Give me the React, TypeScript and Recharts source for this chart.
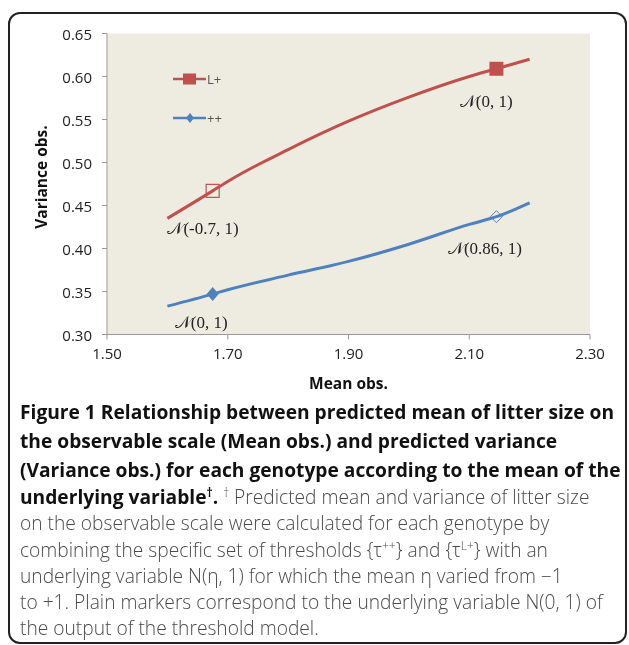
import {
  ComposedChart,
  Line,
  XAxis,
  YAxis,
  CartesianGrid,
  Legend,
  ReferenceDot
} from "recharts";

// values
const meanObs = [1.6, 1.675, 1.7, 1.8, 1.9, 2.0, 2.1, 2.145, 2.2];
const varLPlus = [0.435, 0.467, 0.478, 0.515, 0.548, 0.576, 0.6, 0.609, 0.62];
const varPlusPlus = [0.333, 0.347, 0.352, 0.369, 0.385, 0.405, 0.428, 0.437, 0.453];
const markersLPlus = ["", "hollow", "", "", "", "", "", "filled", ""];
const markersPlusPlus = ["", "filled", "", "", "", "", "", "hollow", ""];
const seriesNames = ["L+", "++"];
const xTicks = [1.5, 1.7, 1.9, 2.1, 2.3];
const yTicks = [0.3, 0.35, 0.4, 0.45, 0.5, 0.55, 0.6, 0.65];

const noteText = ["𝒩(0, 1)", "𝒩(-0.7, 1)", "𝒩(0.86, 1)", "𝒩(0, 1)"];
const noteX = [2.128, 1.659, 2.126, 1.656];
const noteY = [0.572, 0.4244, 0.401, 0.315];

const RED = "#C0504D";
const BLUE = "#4F81BD";
const FONT = "'Open Sans', sans-serif";

const dataLPlus = meanObs.map((m, i) => ({ mean: m, variance: varLPlus[i], marker: markersLPlus[i] }));
const dataPlusPlus = meanObs.map((m, i) => ({ mean: m, variance: varPlusPlus[i], marker: markersPlusPlus[i] }));

function squareDot(props: any) {
  const { cx, cy, payload, index } = props;
  if (payload.marker === "filled")
    return <rect key={index} x={cx - 7} y={cy - 7} width={14} height={14} fill={RED} />;
  if (payload.marker === "hollow")
    return <rect key={index} x={cx - 6.5} y={cy - 6.5} width={13} height={13} fill="none" stroke={RED} strokeWidth={1.2} />;
  return <g key={index} />;
}

function diamondDot(props: any) {
  const { cx, cy, payload, index } = props;
  if (payload.marker === "filled")
    return <polygon key={index} points={`${cx},${cy - 7} ${cx + 6},${cy} ${cx},${cy + 7} ${cx - 6},${cy}`} fill={BLUE} />;
  if (payload.marker === "hollow")
    return <polygon key={index} points={`${cx},${cy - 6} ${cx + 6},${cy} ${cx},${cy + 6} ${cx - 6},${cy}`} fill="none" stroke={BLUE} strokeWidth={1} />;
  return <g key={index} />;
}

function LegendBox() {
  return (
    <div style={{ fontFamily: FONT, fontSize: 13, color: "#555" }}>
      {seriesNames.map((name, i) => (
        <div key={name} style={{ display: "flex", alignItems: "center", height: 39 }}>
          <svg width={33} height={12}>
            <line x1={0} y1={6} x2={33} y2={6} stroke={i === 0 ? RED : BLUE} strokeWidth={2.5} />
            {i === 0 ? (
              <rect x={10} y={0.5} width={13} height={11} fill={RED} />
            ) : (
              <polygon points="17,1 21,6 17,11 13,6" fill={BLUE} />
            )}
          </svg>
          <span style={{ marginLeft: 1 }}>{name}</span>
        </div>
      ))}
    </div>
  );
}

function YLabel(props: any) {
  const { viewBox } = props;
  const x = viewBox.x - 6;
  const y = viewBox.y + viewBox.height / 2 - 7;
  return (
    <text x={x} y={y} transform={`rotate(-90, ${x}, ${y})`} textAnchor="middle" dominantBaseline="central"
      fontFamily={FONT} fontWeight="bold" fontSize={15.5} fill="#111">
      Variance obs.
    </text>
  );
}

function XTick(props: any) {
  const { x, y, payload } = props;
  return (
    <text x={x} y={y} dy={11} textAnchor="middle" dominantBaseline="central" fontFamily={FONT} fontSize={15} fill="#222">
      {payload.value.toFixed(2)}
    </text>
  );
}

function YTick(props: any) {
  const { x, y, payload } = props;
  return (
    <text x={x} y={y} textAnchor="end" dominantBaseline="central" fontFamily={FONT} fontSize={15} fill="#222">
      {payload.value.toFixed(2)}
    </text>
  );
}

const supStyle = { fontSize: 12, lineHeight: 0 };

function App() {
  return (
    <div
      style={{
        position: "fixed",
        left: 8,
        top: 12,
        width: 619,
        height: 632,
        boxSizing: "border-box",
        border: "2px solid #222",
        borderRadius: 12,
        background: "#fff"
      }}
    >
      <ComposedChart width={615} height={383} margin={{ top: 19.5, right: 35, left: 37, bottom: 7.5 }}>
        <CartesianGrid horizontal={false} vertical={false} fill="#EEECE1" />
        <XAxis
          type="number"
          dataKey="mean"
          domain={[1.5, 2.3]}
          ticks={xTicks}
          tick={<XTick />}
          tickSize={5}
          tickMargin={2}
          stroke="#999"
          height={55}
          allowDuplicatedCategory={false}
          label={{ value: "Mean obs.", position: "insideBottom", offset: 1, fontFamily: FONT, fontWeight: "bold", fontSize: 15.5, fill: "#111" }}
        />
        <YAxis
          type="number"
          domain={[0.3, 0.65]}
          ticks={yTicks}
          tick={<YTick />}
          tickSize={5}
          tickMargin={10}
          stroke="#999"
          width={60}
          label={<YLabel />}
        />
        <Legend
          layout="horizontal"
          align="center"
          verticalAlign="middle"
          content={<LegendBox />}
          wrapperStyle={{ position: "absolute", left: 163, top: 45, width: 60 }}
        />
        <Line
          data={dataLPlus}
          dataKey="variance"
          name={seriesNames[0]}
          type="monotone"
          stroke={RED}
          strokeWidth={3}
          dot={squareDot}
          activeDot={false}
          isAnimationActive={false}
        />
        <Line
          data={dataPlusPlus}
          dataKey="variance"
          name={seriesNames[1]}
          type="monotone"
          stroke={BLUE}
          strokeWidth={3}
          dot={diamondDot}
          activeDot={false}
          isAnimationActive={false}
        />
        {noteText.map((t, i) => (
          <ReferenceDot
            key={i}
            x={noteX[i]}
            y={noteY[i]}
            r={0}
            fill="none"
            stroke="none"
            label={{ value: t, position: "center", fontFamily: "'Liberation Serif', serif", fontSize: 17, fill: "#222" }}
          />
        ))}
      </ComposedChart>
      <div style={{ padding: "0 0 0 10px", fontFamily: FONT, fontSize: 19.2, lineHeight: "26.3px", color: "#4a4a4a", fontWeight: 300, whiteSpace: "nowrap" }}>
        <div style={{ fontWeight: 700, color: "#111", lineHeight: "29px" }}>Figure 1 Relationship between predicted mean of litter size on</div>
        <div style={{ fontWeight: 700, color: "#111", lineHeight: "29px" }}>the observable scale (Mean obs.) and predicted variance</div>
        <div style={{ fontWeight: 700, color: "#111", lineHeight: "29px" }}>(Variance obs.) for each genotype according to the mean of the</div>
        <div>
          <span style={{ fontWeight: 700, color: "#111" }}>
            underlying variable<sup style={supStyle}>†</sup>.
          </span>{" "}
          <sup style={supStyle}>†</sup> Predicted mean and variance of litter size
        </div>
        <div>on the observable scale were calculated for each genotype by</div>
        <div>
          combining the specific set of thresholds {"{"}τ<sup style={supStyle}>++</sup>{"}"} and {"{"}τ
          <sup style={supStyle}>L+</sup>{"}"} with an
        </div>
        <div>underlying variable N(η, 1) for which the mean η varied from −1</div>
        <div>to +1. Plain markers correspond to the underlying variable N(0, 1) of</div>
        <div>the output of the threshold model.</div>
      </div>
    </div>
  );
}

export default App;
